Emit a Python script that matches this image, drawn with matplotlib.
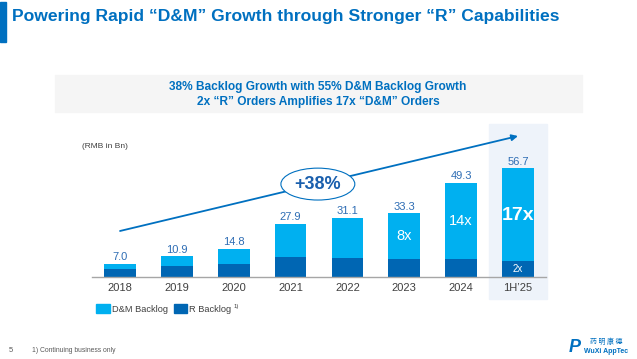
import matplotlib
matplotlib.use("Agg")
import matplotlib.pyplot as plt
from matplotlib.patches import Rectangle, Ellipse

# data (RMB in Bn)
periods = ["2018", "2019", "2020", "2021", "2022", "2023", "2024", "1H\u201925"]
total_backlog = [7.0, 10.9, 14.8, 27.9, 31.1, 33.3, 49.3, 56.7]
r_backlog = [4.2, 6.0, 7.1, 10.7, 10.2, 9.7, 9.5, 8.5]
dm_backlog = [t - r for t, r in zip(total_backlog, r_backlog)]
multiples = {5: "8x", 6: "14x", 7: "17x"}

blue = "#0070C0"
light = "#00B0F0"
dark = "#0066B3"
label_blue = "#2E6DB4"
grey_txt = "#404040"

plt.rcParams['font.family'] = ['Liberation Sans', 'DejaVu Sans']

W, H = 637, 359
fig = plt.figure(figsize=(W / 100, H / 100), dpi=100)


def fx(x):
    return x / W


def fy(y):
    return 1 - y / H


# title and left accent bar
fig.patches.append(Rectangle((fx(0), fy(42)), fx(6), 40 / H, transform=fig.transFigure,
                             color=blue, zorder=0))
fig.text(fx(12), fy(17), "Powering Rapid \u201cD&M\u201d Growth through Stronger \u201cR\u201d Capabilities",
         color=blue, fontsize=12.6, fontweight="bold", va="center", ha="left")

# grey headline band
fig.patches.append(Rectangle((fx(55), fy(112)), (582 - 55) / W, (112 - 75) / H,
                             transform=fig.transFigure, color="#F5F5F5", zorder=0))
fig.text(fx(318), fy(87), "38% Backlog Growth with 55% D&M Backlog Growth",
         color=blue, fontsize=8.6, fontweight="bold", ha="center", va="center")
fig.text(fx(318), fy(102), "2x \u201cR\u201d Orders Amplifies 17x \u201cD&M\u201d Orders",
         color=blue, fontsize=8.6, fontweight="bold", ha="center", va="center")

fig.text(fx(82), fy(146), "(RMB in Bn)", color=grey_txt, fontsize=6, ha="left", va="center")

# bar chart axes: x -0.5..7.5 maps to px 91.6..546.4, y 0..80 maps to 277.3 up
left, right, base = 91.6, 546.4, 277.3
ppu = 1.922
ax = fig.add_axes([fx(left), fy(base), (right - left) / W, 80 * ppu / H])
ax.patch.set_visible(False)
ax.set_xlim(-0.5, 7.5)
ax.set_ylim(0, 80)

xs = list(range(len(periods)))

# highlight for the latest period
ax.add_patch(Rectangle((6.49, -11.3), 1.02, 91.1, color="#EEF3FA", clip_on=False, zorder=0))

ax.bar(xs, r_backlog, width=0.56, color=dark, zorder=2)
ax.bar(xs, dm_backlog, width=0.56, bottom=r_backlog, color=light, zorder=2)

for i, t in enumerate(total_backlog):
    ax.text(i, t + 3.5, f"{t:.1f}", color=label_blue, fontsize=8, ha="center", va="center")

ax.text(5, 21.5, multiples[5], color="white", fontsize=10.5, ha="center", va="center", zorder=3)
ax.text(6, 29.3, multiples[6], color="white", fontsize=10.5, ha="center", va="center", zorder=3)
ax.text(7, 32.0, multiples[7], color="white", fontsize=14, fontweight="bold",
        ha="center", va="center", zorder=3)
ax.text(7, 4.5, "2x", color="white", fontsize=7, ha="center", va="center", zorder=3)

# growth arrow with CAGR bubble
ax.annotate("", xy=(7, 73.5), xytext=(0, 24.1),
            arrowprops=dict(arrowstyle="-|>", color=blue, lw=1.3, mutation_scale=9,
                            shrinkA=0, shrinkB=0), zorder=3)
ax.add_patch(Ellipse((3.48, 48.5), 1.30, 16.6, facecolor="white", edgecolor=blue, lw=0.8, zorder=4))
ax.text(3.48, 48.5, "+38%", color="#1A5FAD", fontsize=13, fontweight="bold",
        ha="center", va="center", zorder=5)

for s in ["top", "right", "left"]:
    ax.spines[s].set_visible(False)
ax.spines["bottom"].set_color("#A6A6A6")
ax.spines["bottom"].set_linewidth(1)
ax.set_yticks([])
ax.set_xticks(xs)
ax.set_xticklabels(periods, color=grey_txt, fontsize=8)
ax.tick_params(axis="x", length=0, pad=4)

# legend
fig.patches.append(Rectangle((fx(96), fy(313.3)), 14 / W, 9.3 / H, transform=fig.transFigure,
                             color=light))
fig.text(fx(112), fy(309), "D&M Backlog", color=grey_txt, fontsize=6.7, va="center", ha="left")
fig.patches.append(Rectangle((fx(174.3), fy(313.3)), 13 / W, 9.3 / H, transform=fig.transFigure,
                             color=dark))
fig.text(fx(189), fy(309), "R Backlog", color=grey_txt, fontsize=6.7, va="center", ha="left")
fig.text(fx(234), fy(306.5), "1)", color=grey_txt, fontsize=4.2, va="center", ha="left")

# footer
fig.text(fx(9), fy(350), "5", color="#595959", fontsize=5.5, va="center", ha="left")
fig.text(fx(32), fy(350), "1) Continuing business only", color="#595959", fontsize=4.9,
         va="center", ha="left")

# logo approximation
fig.text(fx(575), fy(347), "P", color=blue, fontsize=13, fontweight="bold",
         va="center", ha="center", style="italic")
fig.text(fx(606), fy(342), "\u836f \u660e \u5eb7 \u5fb7", color=blue, fontsize=5,
         va="center", ha="center", family=["Noto Sans CJK SC", "DejaVu Sans"])
fig.text(fx(606), fy(351.5), "WuXi AppTec", color=blue, fontsize=5, fontweight="bold",
         va="center", ha="center")

fig.savefig("out.png", dpi=100)
